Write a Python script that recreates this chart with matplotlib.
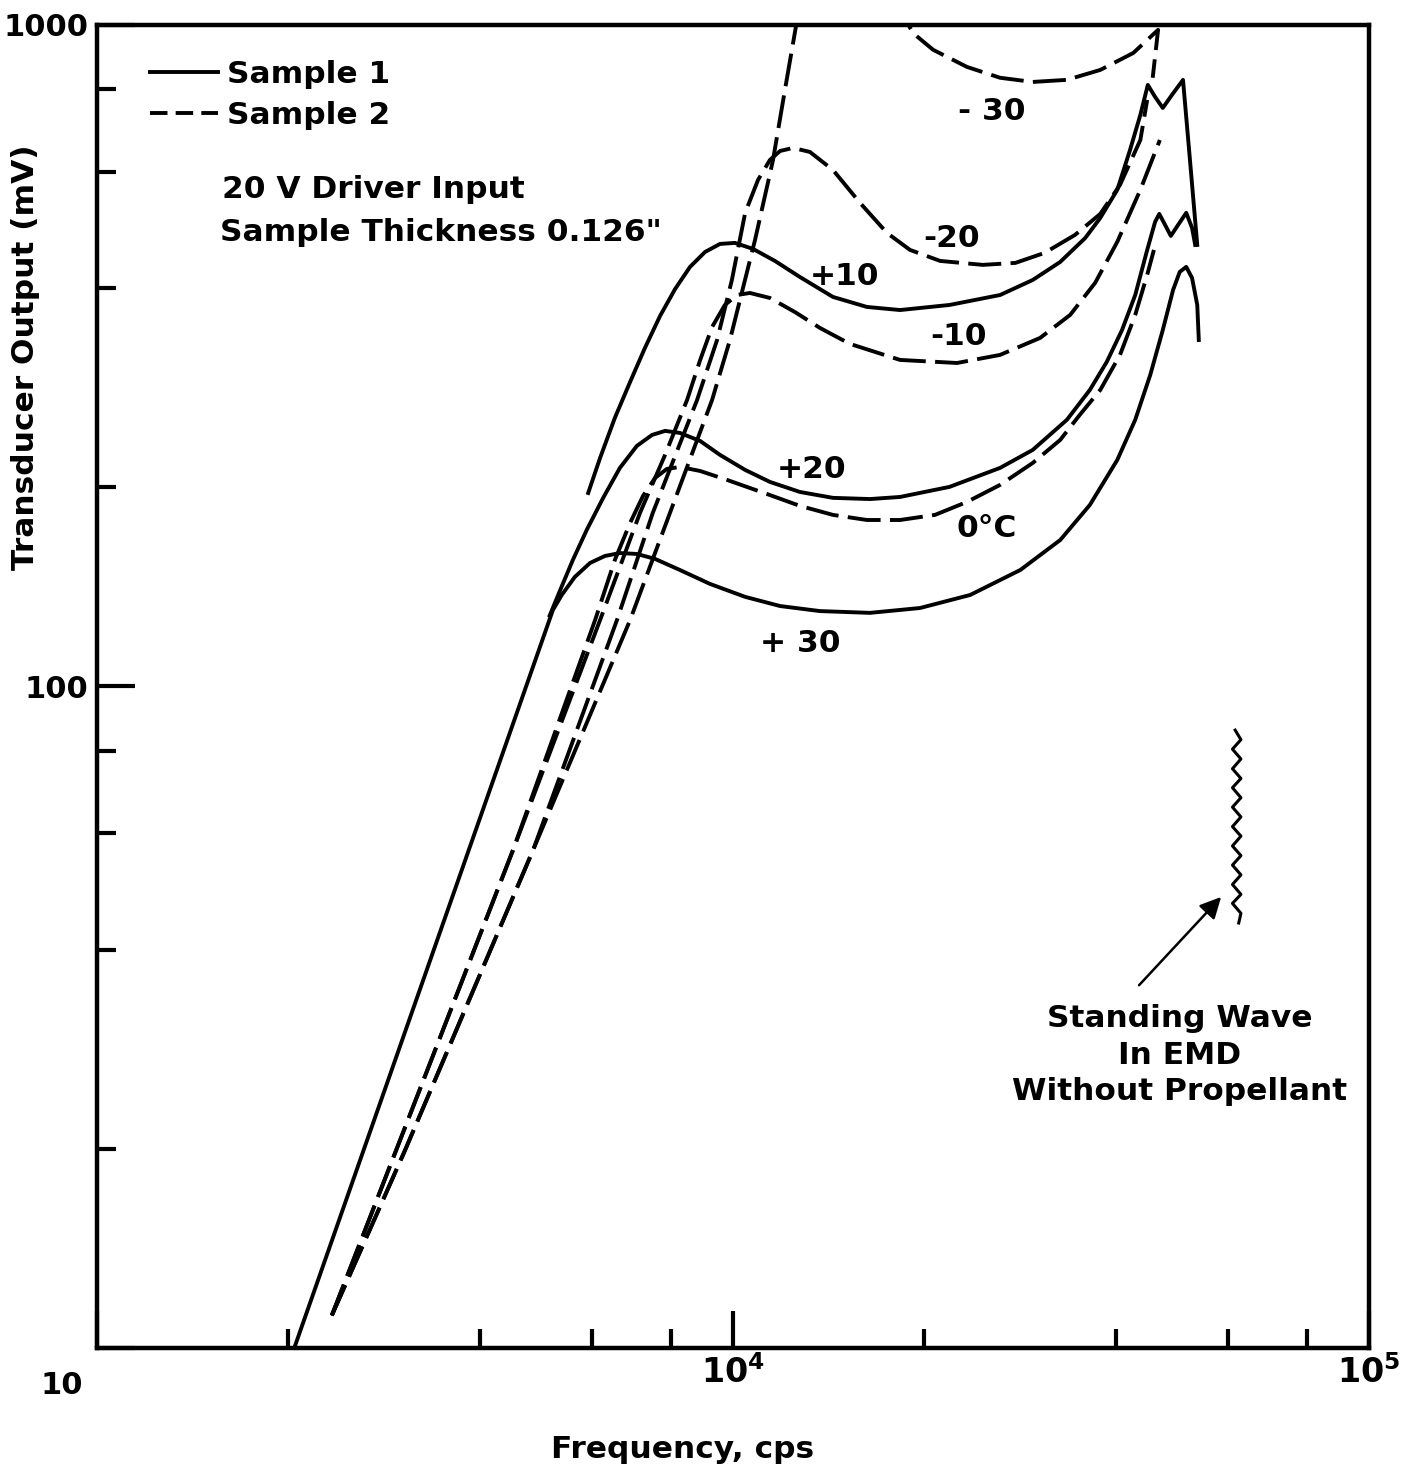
import numpy as np
import matplotlib
matplotlib.use("Agg")
import matplotlib.pyplot as plt
from matplotlib.lines import Line2D

plt.rcParams["font.family"] = ["DejaVu Sans"]
plt.rcParams["font.weight"] = "bold"
plt.rcParams["axes.labelweight"] = "bold"
plt.rcParams["mathtext.default"] = "bf"

# frequency in kHz, output in mV
# sample 1 (solid)
s1_p30_khz = [2.05, 5.21, 5.38, 5.64, 5.96, 6.29, 6.64, 7.06, 7.54, 8.25, 9.20, 10.45,
              11.86, 13.7, 16.42, 19.68, 23.6, 28.3, 32.7, 36.4, 40.2, 42.9, 45.3,
              47.4, 49.2, 50.4, 51.6, 52.7, 53.7, 54.0]
s1_p30_mv = [10.1, 130.5, 137.5, 146.4, 153.7, 157.5, 159.1, 158.6, 155.9, 150, 142.9, 136.6,
             132.3, 130, 129.2, 131.4, 137.5, 150, 166.5, 188.1, 220, 253, 295.8,
             345.8, 397.5, 423.3, 430.8, 414.5, 377.3, 334]

s1_p20_khz = [5.15, 5.35, 5.60, 5.89, 6.25, 6.64, 7.06, 7.46, 7.82, 8.25, 8.88, 9.54,
              10.45, 11.43, 12.74, 14.36, 16.42, 18.31, 21.9, 26.3, 29.6, 33.5, 36.4,
              38.7, 40.9, 42.9, 44.8, 46.1, 46.8, 47.8, 48.8, 50.1, 51.6, 52.7, 53.3]
s1_p20_mv = [128, 139.9, 155.3, 172.5, 192.8, 214, 231, 240, 243.4, 241.7, 235, 223.9,
             212.5, 203.8, 196.8, 192.8, 192, 193.4, 200.3, 214, 227.8, 253, 280.7,
             309.5, 345.8, 390.6, 457, 503.8, 518, 498.5, 479.8, 498.5, 519.9, 493.3, 465]

s1_p10_khz = [5.92, 6.18, 6.52, 6.89, 7.27, 7.68, 8.11, 8.56, 9.04, 9.54, 10.07, 10.75,
              11.64, 12.74, 14.36, 16.24, 18.31, 21.9, 26.3, 29.6, 32.7, 35.8, 37.8,
              40.2, 42.1, 43.7, 44.9, 46.1, 47.4, 49.0, 51.0, 52.3, 53.7]
s1_p10_mv = [196.1, 221.5, 254.7, 288.6, 324.9, 363.2, 398.9, 430.8, 453.8, 466.6, 468.3, 458.6,
             439.8, 415.9, 388, 374.7, 370.7, 377.3, 390.6, 411.6, 438.3, 476.4, 510.8,
             563.2, 647.1, 731.1, 811.5, 778.4, 749, 783.8, 825.8, 625, 465]

# sample 2 (dashed)
s2_0_khz = [2.34, 4.51, 6.07, 6.52, 6.89, 7.22, 7.54, 7.87, 8.25, 8.88, 9.79, 11.31,
            12.74, 14.36, 16.24, 18.31, 20.78, 23.33, 26.3, 29.6, 32.7, 35.1, 37.8,
            40.6, 42.9, 44.8, 45.9]
s2_0_mv = [11.2, 56.6, 126, 155.3, 176.7, 194.1, 206.6, 213.2, 214.7, 211.7, 205.2, 195.4,
           187.5, 181.7, 178.5, 178.5, 181.7, 190.1, 201.7, 217.7, 235.9, 257.4, 280.7,
           317.1, 364.5, 419, 457]

s2_m10_khz = [2.34, 4.51, 6.18, 7.14, 7.82, 8.47, 8.88, 9.27, 9.71, 10.15, 10.63, 11.43,
              12.52, 13.7, 15.27, 18.31, 22.5, 26.3, 30.4, 33.9, 37.1, 40.2, 43.7, 46.9]
s2_m10_mv = [11.2, 56.6, 126, 182.9, 223.9, 271.2, 311.6, 349.4, 377.3, 390.6, 393.4, 386.6,
             368, 348.3, 329.5, 311.6, 308.3, 317.1, 336.4, 364.5, 407.4, 470, 563.2, 670]

s2_m20_khz = [2.34, 3.05, 4.85, 6.57, 7.48, 8.78, 9.44, 9.96, 10.45, 10.95, 11.43, 11.86,
              12.43, 13.21, 14.36, 15.84, 17.46, 18.98, 21.17, 24.7, 27.8, 30.9, 34.5,
              37.8, 40.6, 43.7, 44.8]
s2_m20_mv = [11.2, 19.9, 56.6, 126, 183, 271, 334, 411.6, 519.9, 583.2, 625, 644.9,
             651.7, 642.7, 603.6, 538.3, 484.9, 457, 439.8, 433.8, 436.8, 452.3, 481.5,
             518, 573.1, 670, 770.3]

s2_m30_khz = [2.34, 3.05, 4.85, 6.89, 7.96, 9.27, 9.89, 10.83, 11.56, 12.07, 12.65, 12.98,
              13.95, 15.27, 16.73, 17.85, 18.50, 19.19, 20.64, 23.33, 26.3, 29.6,
              33.5, 37.8, 42.6, 46.6, 45.7]
s2_m30_mv = [11.2, 19.9, 56.6, 126, 183, 271, 334, 473, 625, 798, 1035, 1170,
             1321, 1368, 1299, 1149, 1035, 972, 917, 864, 832, 820,
             826, 855, 907, 983, 832]

# standing wave trace of the empty EMD
wave_khz = [61.6, 62.9, 61.0, 62.9, 61.0, 62.9, 61.0, 62.9, 61.0, 62.9, 61.0,
            62.9, 61.0, 62.9, 61.0, 62.9, 61.0, 62.9, 61.0, 62.9, 62.4]
wave_mv = [85.9, 83.1, 80.4, 77.7, 75.1, 72.6, 70.3, 67.9, 65.7, 63.5, 61.4,
           59.4, 57.4, 55.5, 53.7, 51.9, 50.2, 48.5, 47.0, 45.4, 43.9]

# curve labels: text, kHz, mV
curve_labels = [("- 30", 25.5, 739), ("-20", 22.1, 476), ("+10", 14.95, 416),
                ("-10", 22.6, 338), ("+20", 13.31, 213), ("0\u00b0C", 25.1, 173),
                ("+ 30", 12.75, 116)]

FS = 22.5
LW = 2.8
DASH = (8.5, 2.4)

fig = plt.figure(figsize=(14.16, 14.75), dpi=100)
ax = fig.add_axes([0.0685, 0.0861, 0.8983, 0.897])

solid = [(s1_p30_khz, s1_p30_mv), (s1_p20_khz, s1_p20_mv), (s1_p10_khz, s1_p10_mv)]
dashed = [(s2_0_khz, s2_0_mv), (s2_m10_khz, s2_m10_mv),
          (s2_m20_khz, s2_m20_mv), (s2_m30_khz, s2_m30_mv)]

for f, v in solid:
    ax.plot(np.array(f) * 1e3, v, color="k", lw=LW, solid_joinstyle="round")
for f, v in dashed:
    ax.plot(np.array(f) * 1e3, v, color="k", lw=LW, dashes=DASH)

ax.plot(np.array(wave_khz) * 1e3, wave_mv, color="k", lw=2.2, solid_joinstyle="round")

for txt, f, v in curve_labels:
    ax.text(f * 1e3, v, txt, ha="center", va="center", fontsize=FS)

ax.annotate("", xy=(58.95e3, 48.4), xytext=(43.2e3, 35.1),
            arrowprops=dict(arrowstyle="-|>", color="k", lw=1.8, mutation_scale=32))
ax.text(50.4e3, 27.7, "Standing Wave\nIn EMD\nWithout Propellant", ha="center",
        va="center", fontsize=FS, linespacing=1.32, multialignment="center")

ax.text(0.098, 0.8753, "20 V Driver Input", transform=ax.transAxes,
        ha="left", va="center", fontsize=FS)
ax.text(0.0967, 0.8428, 'Sample Thickness 0.126"', transform=ax.transAxes,
        ha="left", va="center", fontsize=FS)

handles = [Line2D([], [], color="k", lw=LW),
           Line2D([], [], color="k", lw=LW, dashes=(4.5, 2.1))]
ax.legend(handles, ["Sample 1", "Sample 2"], loc="upper left",
          bbox_to_anchor=(0.0417, 0.9735), frameon=False, fontsize=FS,
          handlelength=2.18, handletextpad=0.29, labelspacing=0.37,
          borderpad=0, borderaxespad=0)

ax.set_xscale("log")
ax.set_yscale("log")
ax.set_xlim(1e3, 1e5)
ax.set_ylim(10, 1000)

ax.set_xticks([1e3, 1e4, 1e5])
ax.set_xticklabels(["", r"$10^4$", r"$10^5$"])
ax.set_xticks([2e3, 4e3, 6e3, 8e3, 2e4, 4e4, 6e4, 8e4], minor=True)
ax.set_xticklabels([], minor=True)
ax.set_yticks([10, 100, 1000])
ax.set_yticklabels(["", "100", "1000"])
ax.set_yticks([20, 40, 60, 80, 200, 400, 600, 800], minor=True)
ax.set_yticklabels([], minor=True)

ax.tick_params(which="both", direction="in", top=False, right=False, width=3)
ax.tick_params(which="major", length=27)
ax.tick_params(which="minor", length=14)
ax.tick_params(axis="x", pad=5, labelsize=24)
ax.tick_params(axis="y", pad=6, labelsize=22)

ax.text(-0.0275, -0.028, "10", transform=ax.transAxes, ha="center", va="center",
        fontsize=22)

for sp in ax.spines.values():
    sp.set_linewidth(3.2)

ax.set_xlabel("Frequency, cps", fontsize=FS)
ax.xaxis.set_label_coords(0.46, -0.077)
ax.xaxis.label.set_verticalalignment("center")
ax.set_ylabel("Transducer Output (mV)", fontsize=FS)
ax.yaxis.set_label_coords(-0.045, 0.749)

fig.savefig("out.png", dpi=100, facecolor="white")
